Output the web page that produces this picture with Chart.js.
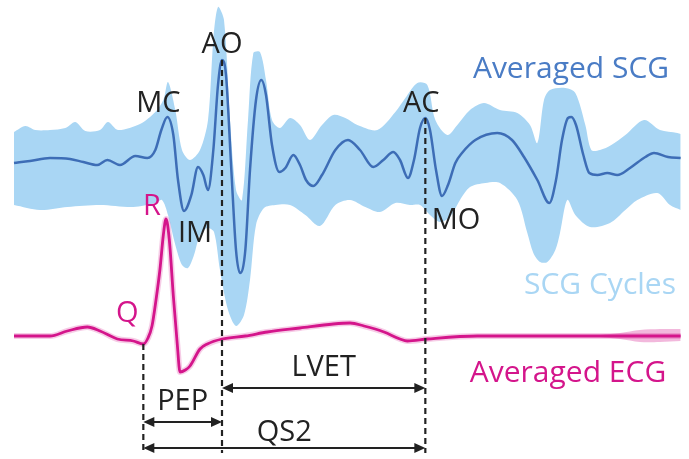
<!DOCTYPE html>
<html>
<head>
<meta charset="utf-8">
<script src="https://cdn.jsdelivr.net/npm/chart.js@4.4.1/dist/chart.umd.min.js"></script>
<style>
  html, body { margin: 0; padding: 0; background: #fff; }
  #wrap { width: 689px; height: 459px; }
</style>
</head>
<body>
<div id="wrap"><canvas id="scgChart"></canvas></div>
<script>
// ====== Data (time in ms, SCG in a.u., ECG in mV) ======
const scgTime = [0, 24, 54, 84, 104, 125, 140, 159, 182, 200, 212, 221, 230, 239, 246, 255, 266, 276, 284, 291,
  299, 306, 312, 318, 326, 333, 339, 347, 354, 363, 371, 378, 387, 398, 407, 419, 429, 438, 449, 462,
  482, 501, 519, 539, 554, 569, 579, 591, 600, 609, 617, 624, 633, 642, 651, 662, 672, 692, 725, 747,
  765, 785, 803, 813, 822, 831, 836, 843, 854, 863, 875, 890, 905, 924, 947, 960, 981, 1000];
const scgAvg = [-0.3, -0.1, 0.2, 0.1, -0.2, -0.5, 0, -0.5, 0.4, 0.2, 1.0, 3.0, 4.3, 2.5, -2.0, -5.1, -3.5, -0.7, -1.5, -3.0,
  1.0, 7.5, 10.0, 8.5, -1.0, -9.0, -11.3, -9.0, -1.0, 6.0, 8.0, 6.5, 1.5, -1.2, -0.8, 0.5, -0.5, -2.0, -2.6, -1.5,
  1.0, 2.0, 1.0, -0.7, 0, 0.8, 0, -1.8, 0, 3.2, 4.2, 3.0, -1.0, -3.6, -2.5, -0.3, 0.7, 2.0, 2.7, 2.0,
  0.3, -2.0, -4.3, -2.0, 2.0, 4.2, 4.3, 3.5, 0.5, -1.3, -1.5, -1.3, -1.5, -0.8, 0.3, 0.7, 0.3, 0.2];

// envelope of all SCG cycles
const cycUpperTime = [0, 17, 32, 54, 77, 92, 107, 129, 141, 156, 189, 212, 224, 231, 242, 252, 264, 279, 291, 299,
  306, 315, 324, 333, 342, 351, 359, 369, 378, 387, 399, 414, 429, 444, 462, 479, 497, 515, 545, 572,
  587, 605, 620, 632, 650, 665, 684, 705, 729, 755, 774, 785, 795, 804, 827, 842, 857, 866, 879, 896,
  917, 945, 969, 995, 1000];
const cycUpper = [2.8, 3.4, 3.0, 3.0, 3.2, 3.8, 2.9, 3.0, 3.8, 3.0, 3.6, 4.8, 6.0, 7.8, 5.0, 1.0, 0, 1.0, 4.0, 12.0,
  15.3, 14.0, 4.0, -3.0, -4.0, 4.0, 10.7, 10.8, 8.0, 4.0, 3.2, 4.2, 3.5, 2.0, 3.5, 4.5, 4.2, 3.5, 3.0, 4.8,
  6.2, 7.7, 7.5, 4.0, 2.5, 3.5, 5.0, 5.7, 5.0, 4.7, 3.5, 1.7, 6.0, 7.0, 7.2, 6.7, 3.5, 1.0, 1.0, 1.5,
  2.5, 4.0, 3.0, 2.7, 2.6];
const cycLowerTime = [0, 39, 80, 129, 179, 212, 222, 231, 242, 252, 261, 270, 279, 290, 300, 309, 321, 333, 345, 354,
  363, 375, 392, 414, 437, 459, 482, 504, 527, 549, 572, 594, 609, 624, 639, 654, 669, 684, 707, 729,
  755, 770, 779, 789, 800, 812, 819, 830, 842, 864, 894, 917, 935, 965, 984, 1000];
const cycLower = [-4.5, -5.0, -4.7, -4.5, -4.7, -4.3, -4.0, -5.5, -8.5, -10.5, -10.8, -9.5, -7.5, -6.8, -7.2, -11.0, -15.0, -16.6, -15.5, -12.0,
  -6.5, -4.8, -4.5, -4.5, -5.5, -6.6, -4.5, -4.0, -4.7, -5.2, -4.3, -4.5, -4.5, -5.5, -6.2, -5.7, -4.0, -2.7, -2.3, -2.3,
  -4.0, -7.3, -9.3, -10.2, -10.2, -9.0, -7.3, -4.0, -5.5, -6.7, -6.3, -5.0, -4.0, -3.3, -4.5, -5.0];

const ecgTime = [0, 54, 80, 110, 129, 155, 179, 194, 201, 207, 213, 219, 224, 228, 233, 239, 245, 249, 257, 264,
  279, 290, 312, 347, 380, 429, 479, 504, 525, 555, 579, 590, 620, 695, 795, 896, 1000];
const ecgAvg = [0, 0, 0.05, 0.09, 0.05, -0.03, -0.05, -0.08, -0.02, 0.10, 0.36, 0.67, 1.01, 1.17, 0.96, 0.40, -0.09, -0.36, -0.34, -0.30,
  -0.13, -0.08, -0.03, 0, 0.04, 0.08, 0.12, 0.13, 0.10, 0.04, -0.03, -0.05, -0.03, 0, 0, 0, 0];
const ecgSpreadTime = [850, 879, 909, 939, 969, 1000];
const ecgUpper = [0, 0.01, 0.03, 0.06, 0.07, 0.07];
const ecgLower = [0, -0.01, -0.03, -0.06, -0.06, -0.05];

// fiducial points (ms)
const scgMarks = ["MC", "IM", "AO", "AC", "MO"];
const scgMarkTime = [230, 255, 312, 617, 642];
const ecgMarks = ["Q", "R"];
const ecgMarkTime = [194, 228];
const intervals = ["PEP", "LVET", "QS2"];
const intervalStart = [194, 312, 194];
const intervalEnd = [312, 617, 617];

const toXY = (ts, vs) => ts.map((t, i) => ({ x: t, y: vs[i] }));

function valueAt(ts, vs, t) {
  for (let i = 1; i < ts.length; i++) {
    if (t <= ts[i]) {
      const f = (t - ts[i - 1]) / (ts[i] - ts[i - 1]);
      return vs[i - 1] + f * (vs[i] - vs[i - 1]);
    }
  }
  return vs[vs.length - 1];
}

const FONT = '"Open Sans", "Noto Sans", sans-serif';
const INK = "#222";
const MAGENTA = "#d4158b";
const CYCLE_BLUE = "#a9d6f4";

// label offsets from their anchor point (px)
const labelOffset = {
  MC: [-9, -5], IM: [11, 31], AO: [0, -7], AC: [-4, -6], MO: [14, 33],
  Q: [-16, -22], R: [-14, -4]
};
const intervalRow = { PEP: 422, LVET: 388, QS2: 448 };

function arrow(ctx, x1, x2, y) {
  const head = 11, half = 5;
  ctx.beginPath();
  ctx.moveTo(x1 + head - 1, y);
  ctx.lineTo(x2 - head + 1, y);
  ctx.stroke();
  ctx.beginPath();
  ctx.moveTo(x1, y); ctx.lineTo(x1 + head, y - half); ctx.lineTo(x1 + head, y + half); ctx.closePath();
  ctx.moveTo(x2, y); ctx.lineTo(x2 - head, y - half); ctx.lineTo(x2 - head, y + half); ctx.closePath();
  ctx.fill();
}

// ====== Annotation overlay ======
const overlay = {
  id: "overlay",
  afterDatasetsDraw(chart) {
    const { ctx, scales, chartArea } = chart;
    const px = t => scales.x.getPixelForValue(t);
    const scgY = t => scales.ySCG.getPixelForValue(valueAt(scgTime, scgAvg, t));
    const ecgY = t => scales.yECG.getPixelForValue(valueAt(ecgTime, ecgAvg, t));
    const bottom = chartArea.bottom - 6;

    ctx.save();
    // dashed event lines
    ctx.strokeStyle = INK;
    ctx.lineWidth = 2.2;
    ctx.setLineDash([6, 4]);
    const qT = ecgMarkTime[0];
    const aoT = scgMarkTime[2], acT = scgMarkTime[3];
    [[px(qT), ecgY(qT)], [px(aoT), scgY(aoT)], [px(acT), scgY(acT)]].forEach(([x, y]) => {
      ctx.beginPath();
      ctx.moveTo(x, y);
      ctx.lineTo(x, bottom);
      ctx.stroke();
    });
    ctx.setLineDash([]);

    // interval arrows
    ctx.fillStyle = INK;
    ctx.lineWidth = 2;
    ctx.font = "29px " + FONT;
    ctx.textAlign = "center";
    ctx.textBaseline = "alphabetic";
    intervals.forEach((name, i) => {
      const x1 = px(intervalStart[i]), x2 = px(intervalEnd[i]);
      const y = intervalRow[name];
      arrow(ctx, x1, x2, y);
      ctx.fillText(name, (x1 + x2) / 2, y - (name === "QS2" ? 7 : 12));
    });

    // fiducial labels
    scgMarks.forEach((name, i) => {
      const t = scgMarkTime[i];
      const [dx, dy] = labelOffset[name];
      ctx.fillStyle = INK;
      ctx.fillText(name, px(t) + dx, scgY(t) + dy);
    });
    ecgMarks.forEach((name, i) => {
      const t = ecgMarkTime[i];
      const [dx, dy] = labelOffset[name];
      ctx.fillStyle = MAGENTA;
      ctx.fillText(name, px(t) + dx, ecgY(t) + dy);
    });

    // series names
    ctx.font = "30px " + FONT;
    ctx.fillStyle = "#4a7cc5";
    ctx.fillText("Averaged SCG", 571, 78);
    ctx.fillStyle = CYCLE_BLUE;
    ctx.fillText("SCG Cycles", 600, 294);
    ctx.fillStyle = MAGENTA;
    ctx.fillText("Averaged ECG", 568, 382);
    ctx.restore();
  }
};

document.addEventListener("DOMContentLoaded", () => {
  const ctx = document.getElementById("scgChart").getContext("2d");
  new Chart(ctx, {
    type: "line",
    data: {
      datasets: [
        {
          label: "SCG cycles (upper)",
          data: toXY(cycUpperTime, cycUpper),
          yAxisID: "ySCG",
          borderWidth: 0,
          pointRadius: 0,
          fill: false,
          tension: 0.3,
          order: 7
        },
        {
          label: "SCG Cycles",
          data: toXY(cycLowerTime, cycLower),
          yAxisID: "ySCG",
          borderWidth: 0,
          pointRadius: 0,
          backgroundColor: CYCLE_BLUE,
          fill: "-1",
          tension: 0.3,
          order: 6
        },
        {
          label: "Averaged SCG",
          data: toXY(scgTime, scgAvg),
          yAxisID: "ySCG",
          borderColor: "#3d6db6",
          borderWidth: 2.5,
          pointRadius: 0,
          cubicInterpolationMode: "monotone",
          order: 5
        },
        {
          label: "ECG cycles (upper)",
          data: toXY(ecgSpreadTime, ecgUpper),
          yAxisID: "yECG",
          borderWidth: 0,
          pointRadius: 0,
          tension: 0.3,
          order: 4
        },
        {
          label: "ECG cycles",
          data: toXY(ecgSpreadTime, ecgLower),
          yAxisID: "yECG",
          borderWidth: 0,
          pointRadius: 0,
          backgroundColor: "rgba(212,21,139,0.3)",
          fill: "-1",
          tension: 0.3,
          order: 3
        },
        {
          label: "ECG halo",
          data: toXY(ecgTime, ecgAvg),
          yAxisID: "yECG",
          borderColor: "rgba(212,21,139,0.22)",
          borderWidth: 6,
          pointRadius: 0,
          cubicInterpolationMode: "monotone",
          order: 2
        },
        {
          label: "Averaged ECG",
          data: toXY(ecgTime, ecgAvg),
          yAxisID: "yECG",
          borderColor: MAGENTA,
          borderWidth: 2.8,
          pointRadius: 0,
          cubicInterpolationMode: "monotone",
          order: 1
        }
      ]
    },
    options: {
      responsive: true,
      maintainAspectRatio: false,
      animation: false,
      layout: { padding: 0 },
      plugins: {
        legend: { display: false },
        tooltip: { enabled: false }
      },
      scales: {
        x: { type: "linear", min: -21, max: 1012.5, display: false },
        ySCG: { type: "linear", min: -29.9, max: 16, display: false },
        yECG: { type: "linear", min: -1.23, max: 3.36, display: false }
      }
    },
    plugins: [overlay]
  });
});
</script>
</body>
</html>
